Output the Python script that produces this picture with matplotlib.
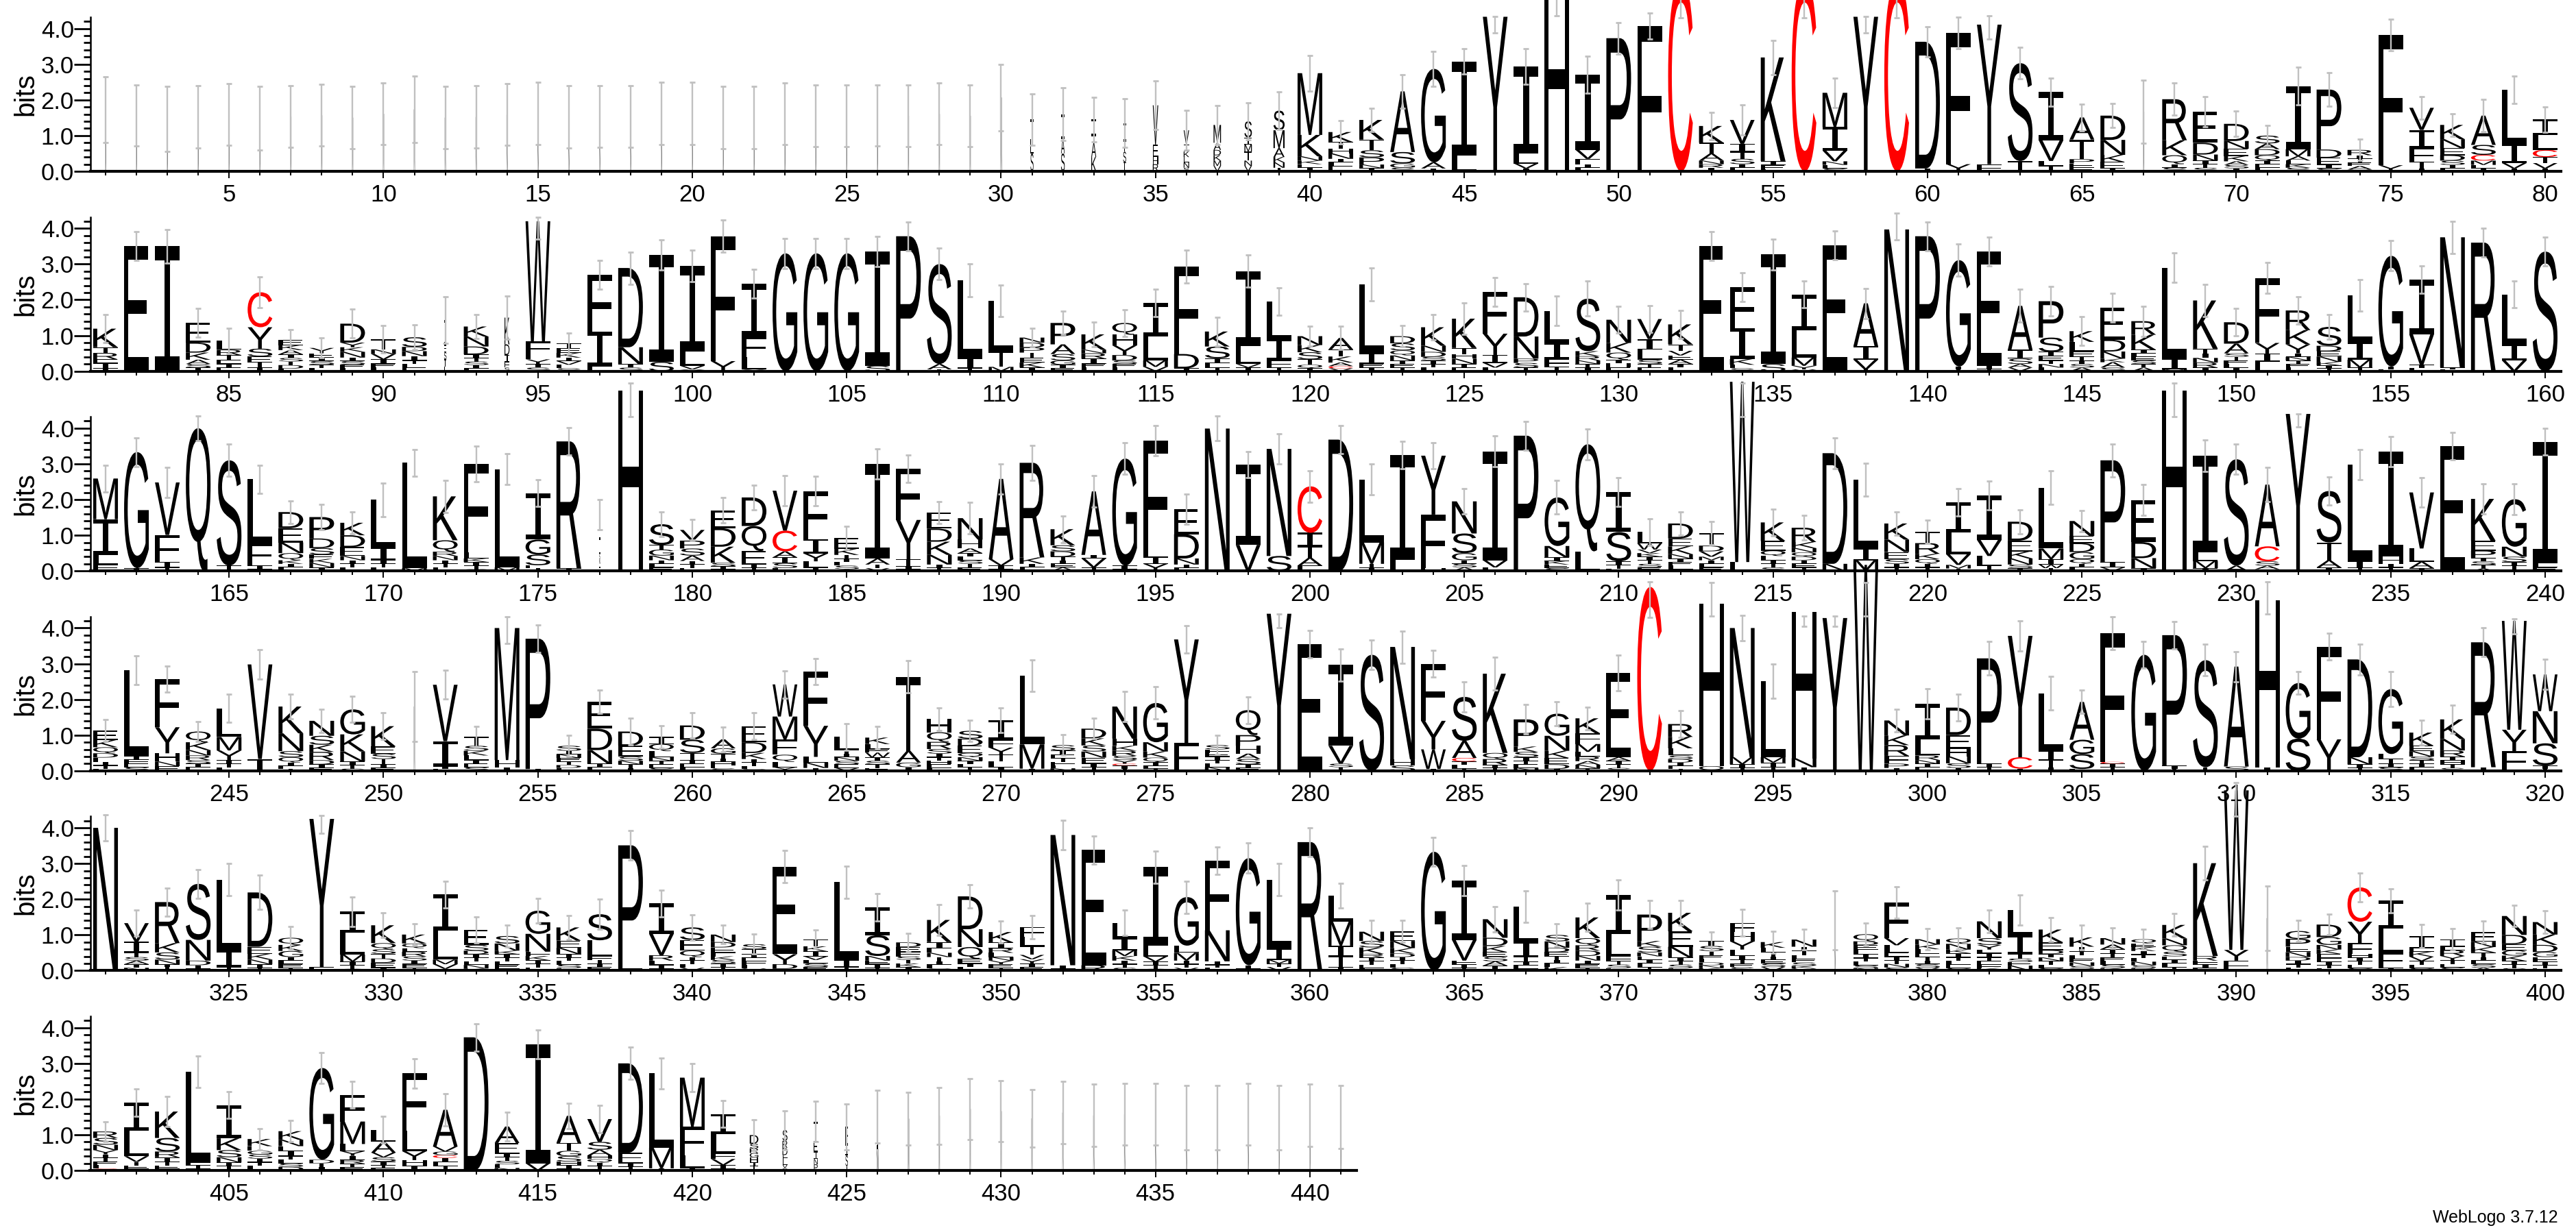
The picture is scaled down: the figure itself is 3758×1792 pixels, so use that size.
#%% WebLogo style sequence logo, six rows of 80 positions

import matplotlib
matplotlib.use('Agg')
import matplotlib.pyplot as plt
from matplotlib.font_manager import FontProperties
from matplotlib.patches import PathPatch
from matplotlib.textpath import TextPath
from matplotlib.transforms import Affine2D

# each stack is written top letter first, letter + height in bits
stacks_row1 = [
    "N1.72", "N1.565", "N1.465", "N1.525", "N1.59", "N1.485", "N1.535", "N1.57", "N1.505", "N1.61",
    "N1.735", "N1.505", "N1.525", "N1.59", "N1.615", "N1.525", "N1.535", "N1.535", "N1.615", "N1.615",
    "N1.505", "N1.505", "N1.605", "N1.555", "N1.555", "N1.565", "N1.555", "N1.605", "N1.555", "N2.07",
    "T.55 L.4 S.5", "I.7 A.4 S.5", "I.45 T.2 A.4 K.4", "I.5 T.3 S.3 T.25", "V1.1 E.35 H.2 R.2",
    "V.4 I.2 K.15 L.15 N.15 S.1", "M.5 A.2 D.15 K.15 M.15 V.15", "S.45 I.2 M.2 T.25 N.15 V.15",
    "S.55 M.5 A.25 K.15 N.15 I.1", "M1.73 K.6 N.12 K.1 E.1 I.1",
    "K.28 T.18 H.14 N.15 I.1 L.1 E.15", "K.55 T.3 S.2 P.2 N.1 I.09", "A1.7 S.32 G.12 S.1", "G2.62 A.17 I.08", "I2.63 L.45",
    "Y4.33", "I2.45 L.27 V.14 I.08", "H4.95", "I2.1 V.25 F.15 I.1 L.1", "P3.73",
    "F4.07", "C5.3", "K.47 T.3 A.2 N.1 R.1 I.1", "V.67 I.22 T.2 S.15 I.1 L.1", "K2.9 I.12 E.12 L.05",
    "C5.3", "M.96 I.66 V.3 N.1 L.1 S.08", "Y4.3 L.03", "C5.3", "D3.55 I.08",
    "F3.68 Y.2", "Y3.91 F.2", "S2.74 T.29", "I1.35 V.58 L.14 T.15", "A.62 T.55 P.12 E.12 E.1",
    "D.68 N.42 K.2 E.18 I.08", "N1.67", "R1.15 K.42 Q.25 I.1 S.1", "E.87 D.33 N.17 I.1 T.1 S.1", "D.48 N.22 E.2 K.15 A.1 S.1 I.08",
    "S.22 A.16 D.17 Q.15 I.1 E.1 L.1", "I1.77 M.2 A.12 L.1 K.1 S.1", "P1.68 D.23 E.2 I.1 S.08", "R.15 I.1 T.1 E.1 A.1 S.05", "F3.65 Y.17",
    "V.62 I.5 F.4 T.18 I.08", "K.4 N.25 E.2 D.15 S.12 I.1 L.08", "A.82 S.28 C.16 M.12 L.1 I.08", "L1.5 I.55 V.15 I.08", "I.43 L.42 C.2 T.17 V.15 I.08",
]
err_row1 = [
    .92, .855, .915, .875, .87, .895, .865, .86, .875, .87,
    .935, .875, .875, .87, .875, .875, .865, .865, .875, .875,
    .875, .875, .865, .865, .865, .855, .865, .865, .865, .93,
    .72, .74, .62, .68, .68, .56, .55, .52, .52, .5,
    .33, .33, .47, .49, .35, .23, .5, .5, .52, .44,
    .36, .5, .38, .43, .48, .5, .41, .23, .5, .42,
    .44, .32, .44, .39, .38, .34, .88, .45, .42, .36,
    .28, .52, .47, .3, .45, .32, .32, .45, .38, .35,
]

stacks_row2 = [
    "K.52 T.16 R.18 E.1 I.15 I.08", "E3.5", "I3.5", "E.55 D.28 K.2 A.12 S.1 I.1", "L.25 R.15 T.13 E.12 I.1 E.1",
    "C.98 Y.6 S.22 E.16 T.15 I.1", "E.14 K.14 A.12 I.1 S.1 T.1 D.1 L.07", "Y.15 E.12 I.1 S.1 T.1 L.08", "D.53 Y.13 K.13 N.16 I.1 S.1 E.1 L.08", "T.28 N.13 V.15 I.13 E.1 L.1",
    "S.27 D.12 N.14 I.12 T.1 L.1 E.1", "I.7 E.2 S.2 T.2 L.13", "K.28 N.28 D.22 I.1 T.1 S.1 I.1 L.07", "K.75 D.3 I.2 E.15 S.1", "W3.37 F.37 L.13 Y.13 I.1 S.1",
    "T.13 E.13 K.13 I.1 V.1 L.1 S.08", "F1.6 I.97 L.13", "D2.22 N.47 I.1 S.1", "I3.0 S.26", "I2.4 L.4 V.1 Y.05",
    "F3.5 Y.28", "I1.5 F.55 L.35 Y.05", "G3.3", "G3.3", "G3.3",
    "I3.2 S.15", "P3.78", "S2.8 A.15 T.05", "L2.16 I.3 T.08", "L1.4 T.45 M.12",
    "N.14 D.14 P.14 T.14 E.14 K.14 I.1", "P.6 A.27 S.18 G.12 I.1 E.08", "K.43 N.1 R.15 I.15 E.1 L.1", "Q.33 H.3 Y.27 D.15 S.1 E.1 L.1", "I.93 L.68 M.18 V.12",
    "F2.45 D.4 I.08", "K.42 S.33 I.13 L.13 T.1", "I2.1 L.5 V.1 I.1", "L1.05 I.6 F.2 T.1", "N.25 K.2 S.2 T.15 Q.1 I.08",
    "A.32 T.2 K.17 A.1 C.06 V.08", "L1.93 I.3 E.1 I.1", "D.2 S.2 Q.14 N.14 I.1 E.1 T.1", "K.52 N.17 D.14 S.1 I.1 T.1 L.1", "K.82 T.17 H.13 N.15 I.1 E.1",
    "F1.17 Y.6 I.22 V.13 L.1", "D1.1 N.62 P.12 S.13 T.1", "L.9 I.45 F.22 T.12", "S1.47 K.14 R.12 N.1 T.1 I.1", "N.65 K.27 Q.2 I.1 H.12 E.1",
    "V.56 I.3 L.28 S.12 T.1 E.1", "K.56 T.18 V.13 E.12 A.12 I.1 L.1", "E3.5", "F1.14 I.87 K.16 L.1 S.08", "I3.07 S.2",
    "I1.0 L.77 M.23 Y.1 V.05", "E3.52", "A1.2 I.38 V.27 T.05", "N3.97", "P3.78",
    "G2.98 I.08 T.05", "E3.2 I.1 T.05", "A1.23 I.25 S.15 A.1 V.1", "P1.02 S.4 I.12 E.12 T.1 N.1 L.1", "K.3 L.27 E.15 T.1 I.1 S.1 A.1",
    "E.9 D.33 N.2 K.1 A.15 S.1", "R.38 K.42 I.1 L.1 E.1 S.1 T.1 A.1", "L2.55 I.3 M.05", "K1.35 T.13 I.13 N.13 R.14 I.1", "D.6 A.27 S.1 T.1 E.1 L.1 I.1",
    "F1.82 Y.3 I.22 L.27", "R.55 K.4 Y.25 I.1 N.1 T.1 E.1 L.1", "S.53 D.15 E.15 N.15 K.1 I.08 T.08", "L1.3 I.5 M.22 T.1", "G3.1 I.08 L.05",
    "I1.53 V.85 I.1 L.08", "N3.65 I.05 L.05", "R3.6", "L1.4 I.45 V.3", "S3.35",
]
err_row2 = [
    .4, .4, .47, .4, .36, .43, .29, .28, .4, .38,
    .35, .65, .33, .6, .31, .29, .41, .45, .42, .44,
    .45, .4, .42, .42, .42, .42, .4, .44, .46, .44,
    .26, .33, .35, .37, .38, .46, .4, .45, .38, .28,
    .32, .46, .29, .35, .44, .4, .38, .42, .49, .38,
    .38, .39, .4, .4, .43, .38, .4, .42, .38, .4,
    .45, .41, .46, .42, .4, .4, .42, .42, .46, .38,
    .43, .38, .35, .44, .42, .38, .45, .4, .37, .41,
]

stacks_row3 = [
    "M1.14 I1.0 L.27 F.18", "G3.25 I.08", "V1.47 F.76 I.15 T.1", "Q4.0", "S2.95 T.15",
    "L1.8 F.62 I.1 T.05", "D.45 E.4 N.3 Q.2 K.1 I.1 L.1", "P.6 D.27 S.18 E.12 K.12 N.12 I.1", "K.35 D.33 E.25 N.12 I.1 T.1 L.1", "L1.33 I.37 I.1 T.1 L.1",
    "L2.95 M.08", "K1.23 Q.32 R.12 N.12 I.1 T.1 L.1", "F2.48 L.17 K.1 I.1 T.1 S.05", "L2.75 M.1", "I1.3 G.42 S.3 E.08 T.08",
    "R3.55 I.08", "I.72 L.37 S.17 N.12 I.1 T.1", "H5.05", "S.58 T.13 G.17 N.13 I.1 L.1 E.1", "V.3 P.22 S.2 A.15 I.1 T.1 E.08",
    "E.5 D.52 K.45 S.1 I.08 T.05", "D.8 Q.7 E.38 I.1 T.08", "V1.12 C.58 A.17 I.16 S.14 L.08", "F1.35 I.4 Y.22 L.17 I.1", "E.3 K.17 T.1 I.1 L.1 S.1 A.05",
    "I2.65 A.17 T.1 V.08", "F1.43 Y1.1 T.2 I.08 V.05", "E.45 D.37 K.37 N.27 I.1 T.08", "N.6 H.25 A.13 I.1 L.1 S.1 T.1 E.1", "A2.25 V.18 I.1 T.05",
    "R2.65 K.18 I.1 L.1", "K.45 S.17 D.15 T.1 I.1 E.1 A.1", "A1.78 I.1 V.25 T.1", "G3.0 I.1 V.05", "F3.25 I.2 Y.2",
    "E.7 D.68 N.17 I.1 L.08", "N3.99", "I2.25 V.73", "N3.0 S.42", "C1.3 I.37 T.33 A.22 F.1 I.05",
    "D3.68", "L1.76 M.6 T.1 I.1", "I2.93 L.32", "Y1.65 F1.5 H.08", "N.9 S.55 G.2 I.1 S.1 A.1",
    "I3.05 V.2 L.1", "P3.79", "G1.36 N.32 I.1 K.1 E.1 S.08", "Q3.0 L.55", "I1.12 S.82 I.1 T.1 L.07",
    "L.32 W.17 V.1 K.1 I.1 T.1 S.1 E.1", "D.42 E.22 K.22 N.12 I.1 E.1 L.1 S.05", "T.35 D.16 V.15 M.1 I.1 L.1 E.1", "W5.05 L.25", "K.52 E.27 Q.15 L.12 I.1 T.1 S.1",
    "R.4 K.17 N.12 Q.12 D.1 I.1 E.1 T.1", "D3.1 N.2", "L1.92 I.33 M.3", "K.45 N.35 E.2 S.13 I.1 T.1", "T.32 R.3 K.15 Q.13 I.1 T.1",
    "I.85 L.6 V.3 M.1 T.07", "I1.25 V.45 L.27 T.15", "D.53 E.3 K.2 N.17 S.1 I.08", "L1.7 M.3 I.15 W.1 T.08", "N.42 E.2 D.25 G.2 Q.13 I.1 L.1",
    "P2.85 I.15 V.1", "E1.18 D.45 N.28 I.08", "H5.05", "I2.7 L.25 M.2 I.08", "S2.98 A.15",
    "A1.73 C.42 S.12 A.1 T.05", "Y4.4", "S1.44 T.5 A.2 I.1", "L2.7 I.2 T.08", "I2.95 H.2 I.1 T.1",
    "V1.57 L.37 A.18 I.08", "E3.5", "K1.18 E.27 P.2 I.1 S.1 T.1 A.07", "G1.33 N.28 S.15 I.1 T.1 E.05", "I3.4 L.12 E.1",
]
err_row3 = [
    .37, .4, .42, .35, .45, .4, .32, .35, .3, .47,
    .38, .45, .5, .43, .37, .39, .42, .47, .35, .29,
    .35, .35, .43, .42, .33, .43, .38, .31, .44, .42,
    .49, .37, .45, .44, .43, .42, .34, .36, .42, .44,
    .4, .43, .38, .36, .36, .43, .4, .47, .43, .4,
    .38, .33, .32, .47, .37, .35, .43, .46, .33, .32,
    .38, .4, .33, .47, .3, .46, .43, .47, .45, .42,
    .48, .19, .4, .42, .42, .42, .38, .43, .44, .38,
]

stacks_row4 = [
    "E.27 K.2 Q.17 D.12 F.12 I.1 T.1 L.05", "L2.4 I.1 F.12 E.1 S.1", "F1.35 Y.73 H.23 N.13 E.13", "Q.3 K.22 N.15 R.13 S.1 I.1 E.1", "L.8 M.38 Y.27 I.1 T.1 L.1",
    "V2.65 I.33", "K.75 N.5 S.17 Q.15 I.1 E.08 T.05", "N.42 S.25 K.2 R.23 D.12 I.1 E.08", "G.7 K.48 N.28 I.1 T.1 S.06", "K.57 E.2 S.15 T.15 I.1 E.08",
    "N1.8", "V1.58 I.7 I.08 L.05", "T.25 S.14 K.13 L.13 I.1 E.1 S.1", "M3.7 H.2 I.1", "P3.65 I.05",
    "S.14 I.1 N.1 E.1 T.1 D.08 L.08", "E.75 D.6 N.38 I.1 L.1", "D.4 E.3 S.12 N.1 T.1 I.08", "I.2 Q.2 L.17 N.1 T.1 E.1 S.08", "D.4 S.37 T.2 I.1 E.1 L.1",
    "A.25 G.15 T.13 I.1 H.1 E.08 S.07", "E.45 D.3 K.17 I.1 T.1 L.08 S.05", "W.9 M.65 F.42 Q.2 L.15 Y.1", "F1.52 Y.87 L.16 N.15 I.08", "L.37 T.1 I.1 N.1 S.1 E.1 V.08",
    "K.18 L.14 E.1 W.13 I.1 S.1 T.1 E.08", "T2.07 A.33 G.13 I.1", "H.37 Q.27 R.2 S.13 I.1 T.1 H.1 E.1 L.08", "S.22 D.2 E.2 Q.12 N.1 I.1 L.08 T.1", "I.55 F.22 Y.2 T.18 L.17 I.1",
    "L1.93 M.68 I.06", "S.15 I.12 E.1 T.1 F.1 L.08 N.07", "D.27 K.2 S.17 N.17 E.17 I.1 T.1", "N.9 H.2 K.14 R.14 S.12 Y.1 C.05 I.1 T.05", "G1.1 N.26 K.17 Q.13 I.1 L.07 T.07",
    "Y2.9 F.78", "S.12 F.1 E.1 I.1 T.1 L.1 N.1", "Q.7 P.3 H.22 A.15 S.15 I.1 E.08", "Y4.4", "E3.55",
    "I2.27 V.5 S.1 T.1", "S3.25", "N3.15 H.17 S.15", "F1.6 Y.8 W.55 I.05", "S1.23 A.48 C.1 I.1 L.1 T.06",
    "K2.22 Q.17 R.17 I.08 T.08", "P.76 K.15 S.15 I.1 T.1 E.1 N.08", "G.62 N.42 K.2 E.18 D.13 I.05", "K.42 F.3 M.22 L.13 R.13 A.1 N.1 T.07", "E2.37 A.1 I.1 T.1 S.08",
    "C5.15", "R.36 K.32 L.2 S.1 D.1 I.1 E.08 T.05", "H4.55 Q.13", "N3.62 M.2 I.1 T.08", "L2.13 M.15 I.13 T.1",
    "H4.1 N.25 I.1", "Y4.28", "W5.77", "N.42 K.27 R.3 F.22 P.12 I.08", "I1.0 L.45 R.13 N.1 I.1 E.1",
    "D.77 E.38 H.22 N.19 S.13 I.08", "P2.95 I.1 T.1", "Y3.4 C.32 I.06", "L1.6 I.27 T.2 I.1", "A1.06 G.4 S.42 L.05",
    "F3.6 C.05 I.1 T.1", "G3.25", "P3.65 I.1 T.05", "S3.0 T.1", "A2.8 S.12",
    "H4.68 I.1", "G1.56 S.9", "F2.6 Y.88", "D2.74 N.2 I.1 T.08", "G1.82 L.14 T.13 I.1 S.1",
    "K.37 E.15 N.15 S.1 T.1 I.1 L.1", "K.55 N.32 R.17 I.12 H.1 T.1 S.08", "R3.5 I.1", "W3.05 Y.6 F.55", "W1.03 N.9 S.62 I.1 T.05",
]
err_row4 = [
    .3, .4, .37, .27, .4, .42, .35, .33, .37, .38,
    .98, .4, .29, .38, .38, .3, .33, .37, .32, .36,
    .34, .37, .38, .37, .37, .32, .45, .32, .29, .34,
    .44, .29, .29, .43, .45, .38, .27, .37, .2, .38,
    .45, .42, .45, .38, .43, .46, .41, .33, .32, .5,
    .5, .37, .47, .36, .48, .15, .15, .47, .31, .42,
    .37, .47, .43, .47, .33, .46, .37, .38, .44, .42,
    .45, .32, .37, .43, .49, .35, .39, .4, .21, .42,
]

stacks_row5 = [
    "N4.0", "V.52 I.3 T.13 S.1 A.1 I.1 N.08", "R1.15 K.26 S.2 N.13 I.08 T.05 L.05", "S1.57 N.58 D.13 I.1 T.05", "L2.0 I.45 T.1",
    "D1.52 E.2 K.16 N.13 I.1 T.08", "Q.2 K.17 G.17 I.1 L.1 E.1 T.08", "Y4.15 F.1", "I.58 L.62 M.2 I.1 T.1 S.05", "K.5 Q.17 S.13 T.13 D.12 E.14 I.08",
    "K.25 Q.13 L.1 R.13 S.12 I.1 E.1 T.08", "I1.0 L.82 M.13 V.13 I.05", "E.42 S.16 D.1 I.1 T.1 L.1 N.1 K.06", "S.21 N.2 K.1 I.1 T.1 L.1 E.1 F.06", "G.65 N.5 F.12 K.12 I.1 T.1 E.09",
    "K.37 E.2 N.17 I.1 T.1 L.1 S.1 F.07", "S.73 L.45 F.1 T.1 I.1 E.1", "P3.45 E.06", "I.85 V.6 R.15 L.12 I.1 T.06", "S.35 E.3 Q.18 I.1 T.1 L.1 V.08",
    "N.21 D.15 E.15 F.1 K.1 S.1 I.1 T.1", "S.14 T.14 I.1 E.1 F.1 L.1 V.06", "E2.45 Y.28 D.13 I.05", "T.2 K.14 I.14 V.1 L.1 S.1 E.1", "L2.18 I.2 T.1",
    "I.78 S.58 N.13 E.1 I.1 T.08", "D.13 E.13 F.13 S.1 T.1 K.1 I.1", "K.62 I.17 E.13 N.12 T.12 I.1 L.1 S.06", "D.92 N.5 Q.33 E.13 I.1 L.1", "K.29 I.16 R.13 L.12 N.1 Y.1 E.1 T.08",
    "F.28 L.26 T.24 V.12 Y.12 I.1 E.1", "N3.65 I.1 L.05", "E3.23 R.15", "L.42 I.35 M.16 K.13 I.1 T.1 S.08", "I2.2 L.3 V.15 I.1 T.1 S.05",
    "G1.36 L.2 M.22 I.1 T.1 V.08", "F1.95 N.87 I.1 T.08 L.08", "G3.0 I.1 T.05", "L1.93 I.32 M.1 T.1 V.1", "R3.6",
    "L.72 M.68 I.3 T.3 I.1", "N.26 S.18 K.18 R.1 I.1 T.1 E.1 L.07", "E.27 N.2 K.15 D.1 I.1 T.1 L.1 S.08", "G3.33", "I1.67 V.58 F.1 I.1 T.08",
    "N.52 D.23 K.17 E.13 S.13 A.12 I.1 T.04", "L1.0 I.42 T.13 I.1 E.1 S.05", "S.18 N.18 D.12 E.12 T.1 I.1 L.1 K.1", "K.58 Q.2 R.15 D.15 N.13 I.1 E.1 T.08", "I1.1 L.62 F.13 T.1 S.1 E.07",
    "P.74 K.16 S.16 N.11 E.1 I.1 L.1 T.1", "K.52 E.43 N.3 I.1 T.1 S.1 L.07", "I.14 S.14 T.12 E.1 L.1 D.08 N.08 K.07", "F.26 H.26 Y.23 L.17 I.12 T.1 E.1 S.1", "K.16 L.12 T.12 I.1 E.1 S.1 V.1",
    "N.2 I.12 T.12 L.1 E.1 S.1 K.07 V.06", "N1.41", "Q.2 D.1 E.13 F.12 I.12 T.1 L.1 S.08 N.07", "F1.0 V.2 L.2 E.12 I.1 T.1 N.1 S.09", "N.15 K.13 L.12 E.1 T.1 I.1 S.1 V.08",
    "Q.15 N.16 K.1 I.12 T.1 L.1 E.1 S.07", "N.47 S.19 Y.13 L.1 I.12 T.1 E.1 F.1 K.07", "L.7 I.53 T.13 S.1 E.1 N.14", "K.36 E.22 D.1 I.1 N.1 T.1 L.1 S.07", "K.26 I.14 T.1 L.1 E.1 N.1 S.08 V.05",
    "N.18 A.13 I.13 T.1 E.1 L.1 S.1 K.07", "Q.12 E.1 K.11 I.1 T.1 L.1 N.1 S.08 D.07", "K.38 N.19 Q.18 S.13 E.1 I.1 L.1 T.1", "K2.6 R.13 F.1 I.1 E.08", "W4.47 Y.3 F.28",
    "N1.47", "G.22 P.22 E.15 N.14 D.1 I.1 T.1 L.08", "D.35 G.22 N.13 K.12 E.12 F.1 I.1 T.08 L.07", "C.96 Y.6 F.3 H.1 I.1 T.1 E.1 S.07", "I.78 L.68 F.42 I.08",
    "I.34 E.1 K.14 V.12 T.1 L.1 S.07", "I.21 L.1 R.16 Y.12 T.1 E.1 S.09", "E.27 N.15 K.15 T.13 I.1 L.1 S.1 A.08", "N.53 D.26 E.17 G.15 K.15 I.1 T.1 S.07", "N.35 K.29 D.2 G.14 F.13 I.1 T.08 E.07",
]
err_row5 = [
    .37, .37, .4, .4, .45, .48, .31, .25, .42, .35,
    .3, .37, .37, .3, .35, .34, .42, .42, .38, .36,
    .26, .28, .45, .26, .45, .38, .26, .43, .33, .31,
    .33, .42, .4, .35, .45, .45, .38, .42, .45, .4,
    .34, .32, .3, .4, .42, .35, .44, .32, .39, .42,
    .4, .35, .26, .38, .31, .29, .83, .32, .44, .29,
    .29, .32, .42, .33, .35, .29, .28, .32, .47, .47,
    .9, .3, .29, .4, .34, .33, .3, .31, .3, .31,
]

stacks_row6 = [
    "R.18 S.19 N.15 Y.12 I.1 T.1 E.1 L.1 C.05", "I.78 L.72 V.16 T.1 E.1 S.04", "K.74 S.38 R.16 I.13 T.1 E.1 L.04", "L2.55 F.06 T.1 I.05", "I.93 K.33 S.2 N.14 I.1 T.1 E.03",
    "K.2 E.13 G.1 S.12 I.1 T.1 L.1 N.03", "K.24 N.18 E.13 I.15 T.1 L.1 S.1 D.1", "G2.57 D.1 T.1 I.1", "F.75 M.63 L.2 Y.13 I.12 R.1 T.1 E.09", "L.34 A.3 V.13 S.12 I.1 T.08 E.07",
    "F1.6 L.58 Y.25 H.15 I.14", "A1.03 V.14 G.1 C.08 I.12 L.1 T.13", "D3.73", "A.46 E.3 I.1 T.1 S.1 L.1 N.07", "I3.33 V.2",
    "A.76 T.22 G.15 S.15 H.1 I.1 E.05", "V.64 S.22 A.16 H.1 Q.1 I.1 T.1 E.02", "D2.5 E.3 I.1 T.1", "L2.08 M.58 I.06", "M1.38 F.8 L.35 I.07",
    "I.56 L.55 F.15 V.17 I.1 T.05", "D.24 S.13 R.13 G.13 H.13 I.1 T.1 C.03", "S.3 R.2 D.2 F.15 L.12 V.1 S.06", "T.55 E.3 I.2 N.15 P.17", "E.5 I.3 S.3 T.12",
    "I.9 N.6", "N1.45", "N1.53", "N1.72", "N1.66",
    "N1.46", "N1.62", "N1.54", "N1.57", "N1.57",
    "N1.48", "N1.48", "N1.57", "N1.48", "N1.54",
    "N1.5",
]
err_row6 = [
    .28, .39, .42, .44, .38, .3, .3, .44, .37, .37,
    .41, .45, .38, .4, .4, .35, .38, .45, .43, .4,
    .37, .44, .55, .57, .64, .74, .74, .8, .86, .86,
    .81, .87, .87, .86, .86, .9, .9, .86, .9, .87,
    .88,
]

# columns that are mostly gaps get thin stacks
thin_pos = list(range(1, 30)) + [30, 31, 32, 33, 34, 35, 36, 37, 38, 39, 67, 92, 94, 177, 251, 377, 391,
                                 422, 423, 424, 425, 426, 427, 428, 429, 430, 431, 432, 433, 434, 435,
                                 436, 437, 438, 439, 440, 441]
thin_frac = [0.04] * 29 + [.05, .12, .15, .2, .12, .22, .22, .3, .3, .45, .04, .1, .2, .04, .04, .04, .04,
                           .35, .2, .15, .1, .06, .05, .04, .04, .04, .04, .04, .04, .04, .04,
                           .04, .04, .04, .04, .04, .04]

# tall columns where the error bar does not sit on the top of the stack
bar_pos = [46, 48, 52, 56, 58, 59, 62, 95, 139, 178, 197, 214, 228, 232, 254, 279, 291, 293, 296, 297, 298, 311, 319, 328, 390]
bar_mid = [4.1, 4.85, 4.8, 4.8, 4.1, 4.8, 4.03, 4.0, 4.05, 4.8, 4.0, 4.8, 4.8, 4.22, 3.94, 4.2, 4.8, 4.8, 4.19, 4.19, 4.8, 4.85, 4.05, 4.1, 4.8]

row_stacks = [stacks_row1, stacks_row2, stacks_row3, stacks_row4, stacks_row5, stacks_row6]
row_errs = [err_row1, err_row2, err_row3, err_row4, err_row5, err_row6]
row_first = [1, 81, 161, 241, 321, 401]

W, H = 3758, 1792
fig = plt.figure(figsize=(W / 100, H / 100), dpi=100)
plt.rcParams['font.family'] = 'Liberation Sans'

fp_sans = FontProperties(family='Liberation Sans')
fp_mono = FontProperties(family='Liberation Mono')
glyphs = {}


def glyph(ch):
    if ch not in glyphs:
        path = TextPath((0, 0), ch, size=1, prop=fp_mono if ch == 'I' else fp_sans)
        glyphs[ch] = (path, path.get_extents())
    return glyphs[ch]


def draw_stack(ax, x, stack, frac):
    y = 0
    for tok in reversed(stack.split()):
        ch, h = tok[0], float(tok[1:])
        path, bb = glyph(ch)
        half = 0.4 * frac
        tr = (Affine2D().translate(-bb.x0, -bb.y0).scale(2 * half / bb.width, h / bb.height)
              .translate(x - half, y))
        ax.add_patch(PathPatch(path, transform=tr + ax.transData, fc='red' if ch == 'C' else 'k',
                               lw=0, clip_on=False, zorder=2))
        y += h
    return y


for i, (stacks, errs, first) in enumerate(zip(row_stacks, row_errs, row_first)):
    n = len(stacks)
    base = 250 + 291.6 * i
    ax = fig.add_axes([131.5 / W, 1 - base / H, n * 45.05 / W, 225 / H])
    ax.patch.set_visible(False)
    ax.set_xlim(first - 0.5, first + n - 0.5)
    ax.set_ylim(0, 4.32)

    xs = list(range(first, first + n))
    tops = []
    for x, stack in zip(xs, stacks):
        frac = thin_frac[thin_pos.index(x)] if x in thin_pos else 1
        top = draw_stack(ax, x, stack, frac)
        tops.append(bar_mid[bar_pos.index(x)] if x in bar_pos else top)

    eb = ax.errorbar(xs, tops, yerr=errs, fmt='none', ecolor='#c0c0c0', elinewidth=1.7,
                     capsize=3.2, capthick=2, zorder=3)
    for art in eb.lines[1] + eb.lines[2]:
        art.set_clip_on(False)

    for side in ['top', 'right']:
        ax.spines[side].set_visible(False)
    ax.spines['left'].set_linewidth(1.8)
    ax.spines['bottom'].set_linewidth(3)

    fives = [v for v in xs if v % 5 == 0]
    ax.set_xticks(fives)
    ax.set_xticks(xs, minor=True)
    ax.set_yticks([0, 1, 2, 3, 4])
    ax.set_yticklabels(['0.0', '1.0', '2.0', '3.0', '4.0'])
    ax.set_yticks([v / 5 for v in range(0, 22)], minor=True)
    ax.tick_params(axis='x', which='major', length=7, width=1.4, pad=6, labelsize=25)
    ax.tick_params(axis='x', which='minor', length=4, width=1.4)
    ax.tick_params(axis='y', which='major', length=17, width=2, pad=0, labelsize=25)
    ax.tick_params(axis='y', which='minor', length=7, width=2)
    ax.set_ylabel('bits', fontsize=29)
    ax.yaxis.set_label_coords(-(131.5 - 56) / (n * 45.05), 0.5)

fig.text(3732 / W, 1 - 1784 / H, 'WebLogo 3.7.12', ha='right', va='baseline', fontsize=18)

fig.savefig('out.png', dpi=100)
